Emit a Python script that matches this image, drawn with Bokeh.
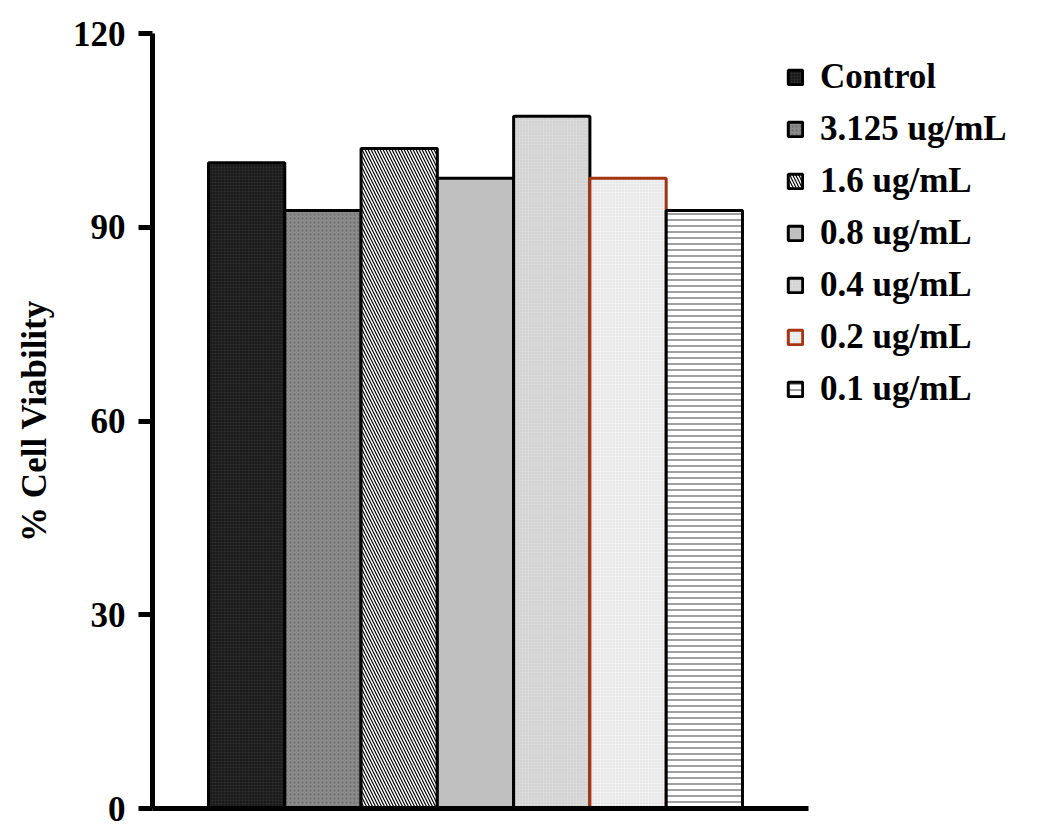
from bokeh.plotting import figure
from bokeh.models import Range1d, FixedTicker, Legend, LegendItem
from bokeh.embed import file_html
from bokeh.resources import INLINE
import numpy as np

# ---- data ----
categories = ["Control", "3.125 ug/mL", "1.6 ug/mL", "0.8 ug/mL",
              "0.4 ug/mL", "0.2 ug/mL", "0.1 ug/mL"]
viability = [100.0, 92.6, 102.2, 97.6, 107.2, 97.6, 92.6]
y_ticks = [0, 30, 60, 90, 120]

# ---- styles (per bar) ----
fills = ["#1a1a1a", "#8a8a8a", "#ffffff", "#c0c0c0", "#dadada", "#f0f0f0", "#ffffff"]
hatches = ["cross", "dot", "left_diagonal_line", "blank", "dot", "dot", "horizontal_line"]
hatch_colors = ["#333333", "#6a6a6a", "#000000", "#c0c0c0", "#c6c6c6", "#d8d8d8", "#a0a0a0"]
hatch_scales = [3, 4, 6, 6, 3, 3, 6]
hatch_weights = [0.5, 1.0, 1.2, 1.0, 1.0, 1.0, 2.0]
line_colors = ["#000000"] * 5 + ["#a33512", "#000000"]

FONT = "Liberation Serif"

X_START, X_AXIS_END, X_END = -1.234, 7.366, 10.538

p = figure(width=1050, height=828, output_backend="svg", toolbar_location=None,
           x_range=Range1d(X_START, X_END), y_range=Range1d(0, 120),
           min_border_left=152, min_border_right=0, min_border_top=33,
           min_border_bottom=20)

xs = np.arange(len(categories))
items = []
for i, cat in enumerate(categories):
    r = p.vbar(x=[xs[i]], top=[viability[i]], width=1.0, bottom=0,
               fill_color=fills[i], hatch_pattern=hatches[i],
               hatch_color=hatch_colors[i], hatch_scale=hatch_scales[i],
               hatch_weight=hatch_weights[i],
               line_color=line_colors[i], line_width=3)
    items.append(LegendItem(label=cat, renderers=[r]))

legend = Legend(items=items, location=(634, 399))
legend.border_line_color = None
legend.background_fill_alpha = 0
legend.padding = 0
legend.margin = 0
legend.glyph_width = 18
legend.glyph_height = 18
legend.label_standoff = 16
legend.spacing = 12
legend.label_text_font = FONT
legend.label_text_font_style = "bold"
legend.label_text_font_size = "35px"
legend.label_text_color = "#000000"
p.add_layout(legend, "center")

p.grid.visible = False
p.outline_line_color = None
p.background_fill_color = "white"

# y axis
ya = p.yaxis[0]
ya.ticker = FixedTicker(ticks=y_ticks)
ya.axis_line_width = 5
ya.axis_line_color = "black"
ya.major_tick_line_width = 5
ya.major_tick_out = 14
ya.major_tick_in = 0
ya.minor_tick_line_color = None
ya.major_label_standoff = 13
ya.major_label_text_font = FONT
ya.major_label_text_font_style = "bold"
ya.major_label_text_font_size = "35px"
ya.major_label_text_color = "black"
ya.axis_label = "% Cell Viability"
ya.axis_label_text_font = FONT
ya.axis_label_text_font_style = "bold"
ya.axis_label_text_font_size = "35px"
ya.axis_label_text_color = "black"
ya.axis_label_standoff = 16

# x axis (line only, limited to the bar area)
xa = p.xaxis[0]
xa.bounds = (X_START, X_AXIS_END)
xa.ticker = FixedTicker(ticks=[])
xa.axis_line_width = 5
xa.axis_line_color = "black"
xa.major_tick_line_color = None
xa.minor_tick_line_color = None
xa.major_label_text_font_size = "0px"

open("out.html", "w").write(file_html(p, INLINE))
